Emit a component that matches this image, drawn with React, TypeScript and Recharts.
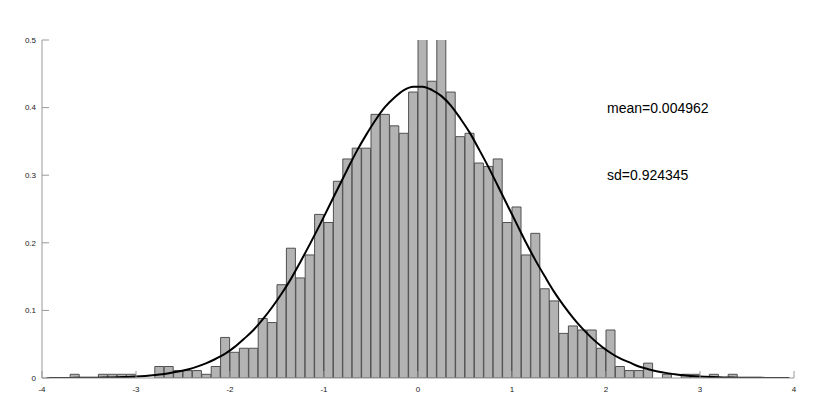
import React from 'react';
import { ComposedChart, Bar, Line, XAxis, YAxis, ReferenceDot } from 'recharts';

// bin centres, width 0.1, from -4 to 4
const binCenters = [
  -3.95, -3.85, -3.75, -3.65, -3.55, -3.45, -3.35, -3.25, -3.15, -3.05,
  -2.95, -2.85, -2.75, -2.65, -2.55, -2.45, -2.35, -2.25, -2.15, -2.05,
  -1.95, -1.85, -1.75, -1.65, -1.55, -1.45, -1.35, -1.25, -1.15, -1.05,
  -0.95, -0.85, -0.75, -0.65, -0.55, -0.45, -0.35, -0.25, -0.15, -0.05,
  0.05, 0.15, 0.25, 0.35, 0.45, 0.55, 0.65, 0.75, 0.85, 0.95,
  1.05, 1.15, 1.25, 1.35, 1.45, 1.55, 1.65, 1.75, 1.85, 1.95,
  2.05, 2.15, 2.25, 2.35, 2.45, 2.55, 2.65, 2.75, 2.85, 2.95,
  3.05, 3.15, 3.25, 3.35, 3.45, 3.55, 3.65, 3.75, 3.85, 3.95,
];

// histogram density per bin
const density = [
  0, 0, 0, 0.0055, 0, 0, 0.0055, 0.0055, 0.0055, 0.0055,
  0, 0, 0.017, 0.017, 0.011, 0.011, 0.011, 0.0055, 0.017, 0.06,
  0.038, 0.044, 0.044, 0.088, 0.082, 0.138, 0.192, 0.148, 0.182, 0.242,
  0.23, 0.291, 0.324, 0.34, 0.34, 0.39, 0.39, 0.373, 0.362, 0.423,
  0.53, 0.439, 0.52, 0.423, 0.357, 0.362, 0.318, 0.313, 0.324, 0.23,
  0.253, 0.182, 0.214, 0.132, 0.114, 0.066, 0.077, 0.071, 0.071, 0.044,
  0.071, 0.017, 0.011, 0.011, 0.022, 0, 0.0055, 0, 0.0055, 0.0055,
  0, 0.0055, 0, 0.0055, 0, 0, 0, 0, 0, 0,
];

// fitted normal curve (mean=0.004962, sd=0.924345) read at the bin centres
const fitted = [
  0.0, 0.0001, 0.0001, 0.0002, 0.0003, 0.0004, 0.0006, 0.0009, 0.0013, 0.0018,
  0.0026, 0.0037, 0.0051, 0.007, 0.0095, 0.0127, 0.0168, 0.022, 0.0285, 0.036,
  0.046, 0.058, 0.071, 0.087, 0.105, 0.125, 0.147, 0.172, 0.198, 0.225,
  0.253, 0.281, 0.309, 0.336, 0.36, 0.382, 0.401, 0.415, 0.426, 0.431,
  0.431, 0.426, 0.417, 0.403, 0.384, 0.363, 0.338, 0.312, 0.284, 0.256,
  0.228, 0.2, 0.174, 0.15, 0.127, 0.107, 0.089, 0.073, 0.059, 0.047,
  0.037, 0.029, 0.023, 0.017, 0.013, 0.0097, 0.0072, 0.0052, 0.0038, 0.0027,
  0.0019, 0.0013, 0.0009, 0.0006, 0.0004, 0.0003, 0.0002, 0.0001, 0.0001, 0.0,
];

const xTicks = [-4, -3, -2, -1, 0, 1, 2, 3, 4];
const yTicks = [0, 0.1, 0.2, 0.3, 0.4, 0.5];

const data = binCenters.map((x, i) => ({ x, density: density[i], curve: fitted[i] }));

const font = '"Liberation Sans", Arial, Helvetica, sans-serif';

export default function App() {
  return (
    <div style={{ position: 'absolute', left: 0, top: 0, width: 830, height: 415, background: '#fff' }}>
      <ComposedChart
        width={830}
        height={415}
        data={data}
        margin={{ top: 40, right: 36, left: 0, bottom: 17 }}
        barCategoryGap={0}
        barGap={0}
      >
        <XAxis
          dataKey="x"
          type="number"
          domain={[-4, 4]}
          ticks={xTicks}
          allowDataOverflow
          height={20}
          stroke="#999"
          tickSize={-7}
          tickMargin={15}
          tick={{ fill: '#222', fontSize: 8, fontFamily: font }}
        />
        <YAxis
          type="number"
          domain={[0, 0.5]}
          ticks={yTicks}
          allowDataOverflow
          width={42}
          stroke="#999"
          tickSize={-7}
          tickMargin={13}
          tick={{ fill: '#222', fontSize: 8, fontFamily: font }}
        />
        <Bar dataKey="density" fill="#b3b3b3" stroke="#505050" strokeWidth={1} isAnimationActive={false} />
        <Line
          dataKey="curve"
          type="monotone"
          stroke="#000"
          strokeWidth={2}
          dot={false}
          isAnimationActive={false}
        />
        <ReferenceDot
          x={2}
          y={0.4}
          r={0}
          fill="none"
          stroke="none"
          label={{ value: 'mean=0.004962', position: 'right', offset: 1, fill: '#000', fontSize: 14, fontFamily: font }}
        />
        <ReferenceDot
          x={2}
          y={0.3}
          r={0}
          fill="none"
          stroke="none"
          label={{ value: 'sd=0.924345', position: 'right', offset: 1, fill: '#000', fontSize: 14, fontFamily: font }}
        />
      </ComposedChart>
    </div>
  );
}
